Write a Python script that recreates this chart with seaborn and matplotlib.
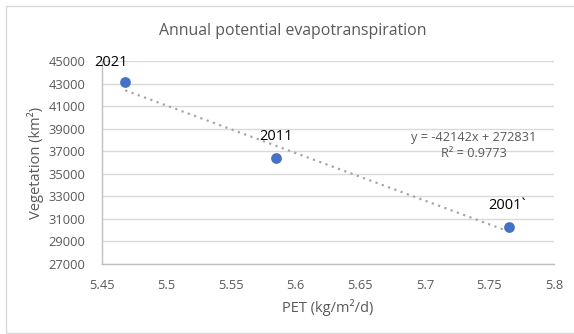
import matplotlib
matplotlib.use("Agg")
import matplotlib.pyplot as plt
import seaborn as sns
import pandas as pd
import numpy as np
from matplotlib.patches import Rectangle

# Annual PET versus vegetated area
years = ["2021", "2011", "2001`"]
pet = [5.468, 5.585, 5.765]
vegetation = [43100, 36400, 30300]

# Linear trend reported on the chart
slope = -42142
intercept = 272831
r_squared = 0.9773

x_ticks = [5.45, 5.5, 5.55, 5.6, 5.65, 5.7, 5.75, 5.8]
x_tick_labels = ["5.45", "5.5", "5.55", "5.6", "5.65", "5.7", "5.75", "5.8"]
y_ticks = list(range(27000, 45001, 2000))

df = pd.DataFrame({"PET": pet, "Vegetation": vegetation, "Year": years})

sns.set_theme(style="white")
plt.rcParams["font.family"] = ["Open Sans", "DejaVu Sans"]

W, H = 574, 334
fig = plt.figure(figsize=(W / 100, H / 100), dpi=100)
ax = fig.add_axes([102 / W, 1 - 264 / H, (554 - 102) / W, (264 - 61) / H])

grey_text = "#595959"
grid_col = "#d9d9d9"

# trend line across the data range
xs = np.array([min(pet), max(pet)])
ax.plot(xs, slope * xs + intercept, linestyle=(0, (1, 2)), color="#a6a6a6",
        linewidth=1.6, zorder=2)

sns.scatterplot(data=df, x="PET", y="Vegetation", ax=ax, color="#4472C4",
                s=60, edgecolor="#4472C4", linewidth=0, zorder=3, legend=False)

label_offsets = {"2021": (-14, 20), "2011": (0, 21), "2001`": (-2, 21)}
for yr, xv, yv in zip(years, pet, vegetation):
    ax.annotate(yr, (xv, yv), xytext=label_offsets[yr], textcoords="offset pixels",
                ha="center", va="center", fontsize=10.5, color="black")

ax.text(0.823, 0.586, f"y = {slope}x + {intercept}\nR² = {r_squared}",
        transform=ax.transAxes, ha="center", va="center", fontsize=9.2,
        color=grey_text, linespacing=1.3)

ax.set_xlim(5.45, 5.8)
ax.set_ylim(27000, 45000)
ax.set_xticks(x_ticks)
ax.set_xticklabels(x_tick_labels)
ax.set_yticks(y_ticks)
ax.tick_params(axis="both", labelsize=9.3, colors=grey_text, length=0)
ax.tick_params(axis="y", pad=12)
ax.tick_params(axis="x", pad=11)

ax.grid(axis="y", color=grid_col, linewidth=1)
ax.set_axisbelow(True)
for side in ["top", "right"]:
    ax.spines[side].set_visible(False)
for side in ["left", "bottom"]:
    ax.spines[side].set_color("#bfbfbf")
    ax.spines[side].set_linewidth(1)

ax.set_xlabel("PET (kg/m²/d)", fontsize=10.5, color=grey_text, labelpad=5)
ax.set_ylabel("Vegetation (km²)", fontsize=10.5, color=grey_text, labelpad=3)

fig.text(293 / W, 1 - 31 / H, "Annual potential evapotranspiration",
         ha="center", va="center", fontsize=11.4, color=grey_text)

# chart frame
fig.patches.append(Rectangle((6 / W, 1 / H), 1, 1 - 7 / H, transform=fig.transFigure,
                             fill=False, edgecolor="#d9d9d9", linewidth=1))

fig.savefig("out.png", dpi=100)
